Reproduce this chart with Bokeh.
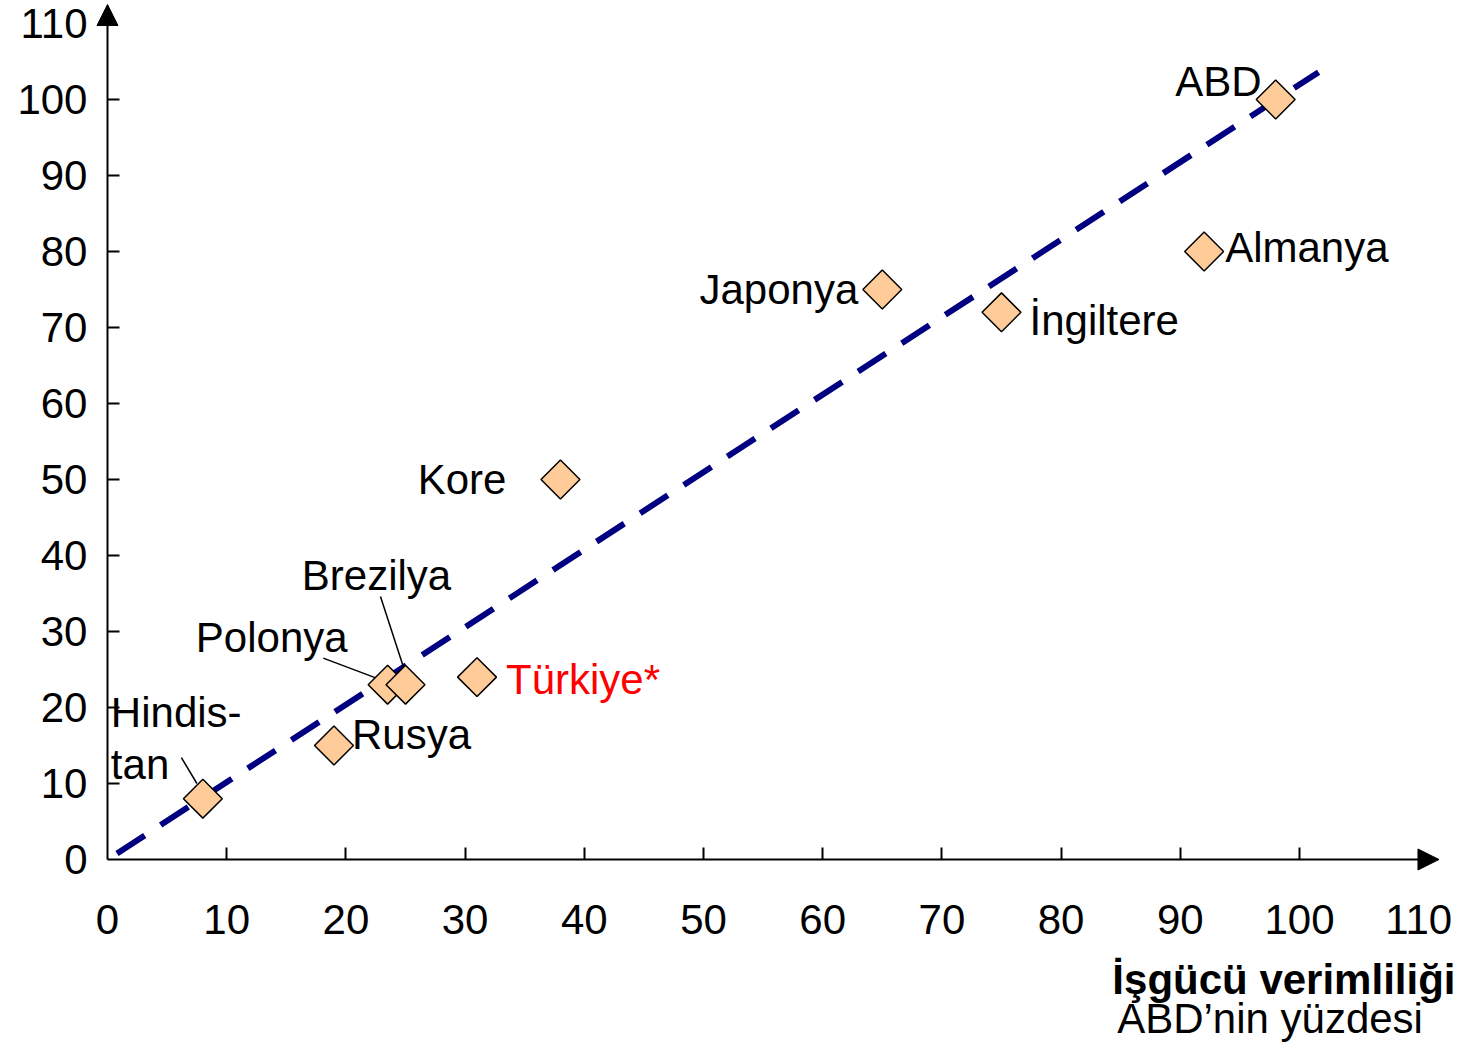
import numpy as np
from bokeh.plotting import figure
from bokeh.models import ColumnDataSource, Range1d, FixedTicker, Arrow, NormalHead
from bokeh.core.properties import value
from bokeh.embed import file_html
from bokeh.resources import INLINE

# ---------------- data ----------------
countries = ["Hindistan", "Rusya", "Polonya", "Brezilya", "Türkiye", "Kore",
             "Japonya", "İngiltere", "Almanya", "ABD"]
labour_productivity = [8, 19, 23.5, 25, 31, 38, 65, 75, 92, 98]
y_values = [8, 15, 23, 23, 24, 50, 75, 72, 80, 100]
trend_x = [0.8, 101.6]
trend_y = [0.8, 103.6]
tick_values = [0, 10, 20, 30, 40, 50, 60, 70, 80, 90, 100, 110]
x_title = "İşgücü verimliliği"
x_subtitle = "ABD’nin yüzdesi"

# ---------------- label layout ----------------
label_texts = ["Hindis-", "tan", "Rusya", "Polonya", "Brezilya", "Türkiye*", "Kore",
               "Japonya", "İngiltere", "Almanya", "ABD"]
label_anchor = [0, 0, 1, 2, 3, 4, 5, 6, 7, 8, 9]
label_dx = [-92, -92, 18, -40, -29, 29, -54, -24, 28, 21, -14]
label_dy = [-86, -34, -11, -47, -109, 2, 0, 0, 8, -4, -18]
label_align = ["left", "left", "left", "right", "center", "left", "right",
               "right", "left", "left", "right"]
label_color = ["black", "black", "black", "black", "black", "#FF0000", "black",
               "black", "black", "black", "black"]
leader_x0 = [6.2, 18.1, 22.9]
leader_y0 = [13.4, 26.5, 34.6]
leader_x1 = [7.5, 23.0, 25.1]
leader_y1 = [10.0, 23.6, 24.0]
title_x = [84.3, 84.7]
title_y = [-15.8, -20.9]

FONT = "Liberation Sans"
FS = "42px"

p = figure(frame_width=1456, frame_height=1042,
           x_range=Range1d(-8.976, 113.17), y_range=Range1d(-24.08, 113.03),
           output_backend="svg", toolbar_location=None,
           min_border_left=0, min_border_right=0, min_border_top=0, min_border_bottom=0)
p.xgrid.visible = False
p.ygrid.visible = False
p.outline_line_color = None
p.background_fill_color = "white"
p.border_fill_color = "white"

for ax in (p.xaxis[0], p.yaxis[0]):
    ax.ticker = FixedTicker(ticks=tick_values, minor_ticks=tick_values[1:-1])
    ax.fixed_location = 0
    ax.axis_line_color = None
    ax.major_tick_line_color = None
    ax.major_tick_in = 0
    ax.major_tick_out = 0
    ax.minor_tick_in = 12
    ax.minor_tick_out = 0
    ax.minor_tick_line_color = "black"
    ax.minor_tick_line_width = 2
    ax.major_label_text_font = FONT
    ax.major_label_text_font_size = FS
    ax.major_label_text_color = "black"
p.xaxis.major_label_standoff = 46
p.yaxis.major_label_standoff = 20

# axes with arrows
p.add_layout(Arrow(end=NormalHead(size=21, fill_color="black", line_color="black"),
                   x_start=0, y_start=0, x_end=111.7, y_end=0,
                   line_width=2, line_color="black"))
p.add_layout(Arrow(end=NormalHead(size=21, fill_color="black", line_color="black"),
                   x_start=0, y_start=0, x_end=0, y_end=112.5,
                   line_width=2, line_color="black"))

# trend line
p.line(trend_x, trend_y, line_color="#000080", line_width=6, line_dash="33 19")

# leader lines
p.segment(x0=leader_x0, y0=leader_y0, x1=leader_x1, y1=leader_y1,
          line_color="black", line_width=1.5)

# points
src = ColumnDataSource(dict(x=labour_productivity, y=y_values, name=countries))
p.scatter("x", "y", source=src, marker="square", angle=np.pi / 4, size=27.5,
          fill_color="#FFCC99", line_color="black", line_width=1.5)

# labels
lab = ColumnDataSource(dict(
    x=[labour_productivity[i] for i in label_anchor],
    y=[y_values[i] for i in label_anchor],
    text=label_texts, dx=label_dx, dy=label_dy,
    align=label_align, color=label_color))
p.text("x", "y", text="text", source=lab, x_offset="dx", y_offset="dy",
       text_align="align", text_baseline="middle", text_color="color",
       text_font=value(FONT), text_font_size=FS)

# x-axis title (two lines)
p.text(x=[title_x[0]], y=[title_y[0]], text=[x_title], text_font=value(FONT),
       text_font_size="42px", text_font_style="bold", text_color="black",
       text_baseline="middle", text_align="left")
p.text(x=[title_x[1]], y=[title_y[1]], text=[x_subtitle], text_font=value(FONT),
       text_font_size="42px", text_color="black",
       text_baseline="middle", text_align="left")

open("out.html", "w").write(file_html(p, INLINE))
